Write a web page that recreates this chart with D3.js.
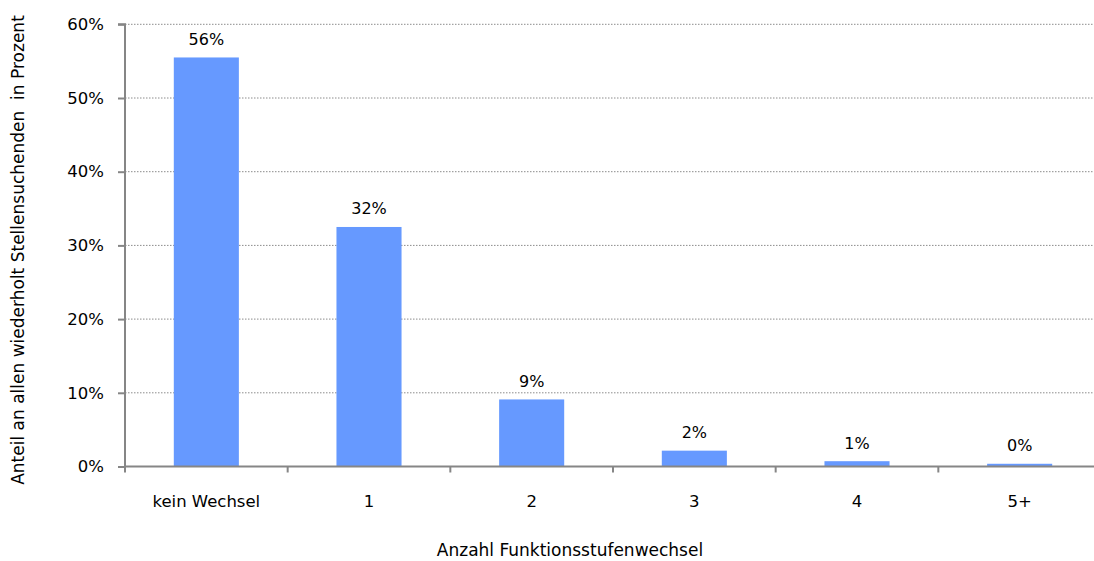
<!DOCTYPE html>
<html><head><meta charset="utf-8">
<script src="https://cdn.jsdelivr.net/npm/d3@7"></script>
<style>body{margin:0;background:#fff}svg text{font-family:"DejaVu Sans",sans-serif;fill:#000}</style>
</head><body><svg width="1094" height="561"></svg>
<script>
const categories = ["kein Wechsel","1","2","3","4","5+"];
const values = [55.5, 32.5, 9.1, 2.15, 0.72, 0.37];
const valueLabels = ["56%","32%","9%","2%","1%","0%"];
const yTicks = [0,10,20,30,40,50,60];

const svg = d3.select("svg");
const x = d3.scaleBand().domain(categories).range([125, 1101]).paddingInner(0.6).paddingOuter(0.3);
const y = d3.scaleLinear().domain([0,60]).range([466.5, 24.3]);

// gridlines
svg.append("g").selectAll("line").data(yTicks.filter(d=>d>0)).join("line")
  .attr("x1",125).attr("x2",1101).attr("y1",d=>y(d)).attr("y2",d=>y(d))
  .attr("stroke","#8c8c8c").attr("stroke-width",1).attr("stroke-dasharray","1.5,1.5");

// bars
svg.append("g").selectAll("rect").data(values).join("rect")
  .attr("x",(d,i)=>x(categories[i])).attr("width",x.bandwidth())
  .attr("y",d=>y(d)).attr("height",d=>y(0)-y(d)).attr("fill","#6699FF");

// value labels
svg.append("g").selectAll("text").data(values).join("text")
  .attr("x",(d,i)=>x(categories[i])+x.bandwidth()/2).attr("y",d=>y(d)-12.5)
  .attr("text-anchor","middle").attr("font-size",16).text((d,i)=>valueLabels[i]);

// y axis
const yAxis = d3.axisLeft(y).tickValues(yTicks).tickFormat(d=>d+"%").tickSize(7).tickPadding(14);
const gy = svg.append("g").attr("transform","translate(125,0)").call(yAxis);
gy.select(".domain").attr("stroke","#868686").attr("stroke-width",2).attr("d","M-7,"+y(60)+"H0V"+y(0));
gy.selectAll(".tick line").attr("stroke","#868686").attr("stroke-width",2);
gy.selectAll(".tick text").attr("font-size",16.5).attr("font-family","DejaVu Sans").attr("fill","#000");

// x axis
const step = x.step();
const bounds = d3.range(0,7).map(i=>125+i*step);
const gx = svg.append("g");
gx.append("line").attr("x1",125).attr("x2",1101).attr("y1",y(0)).attr("y2",y(0)).attr("stroke","#868686").attr("stroke-width",2);
gx.selectAll("line.t").data(bounds).join("line").attr("class","t")
  .attr("x1",d=>d).attr("x2",d=>d).attr("y1",y(0)).attr("y2",y(0)+6).attr("stroke","#868686").attr("stroke-width",2);
gx.selectAll("text").data(categories).join("text")
  .attr("x",d=>x(d)+x.bandwidth()/2).attr("y",506.5).attr("text-anchor","middle").attr("font-size",16.5).text(d=>d);

// titles
svg.append("text").attr("x",570).attr("y",556).attr("text-anchor","middle").attr("font-size",17).text("Anzahl Funktionsstufenwechsel");
svg.append("text").attr("transform","translate(24,250) rotate(-90)").attr("text-anchor","middle").attr("font-size",17)
  .style("white-space","pre")
  .text("Anteil an allen wiederholt Stellensuchenden  in Prozent");
</script></body></html>
